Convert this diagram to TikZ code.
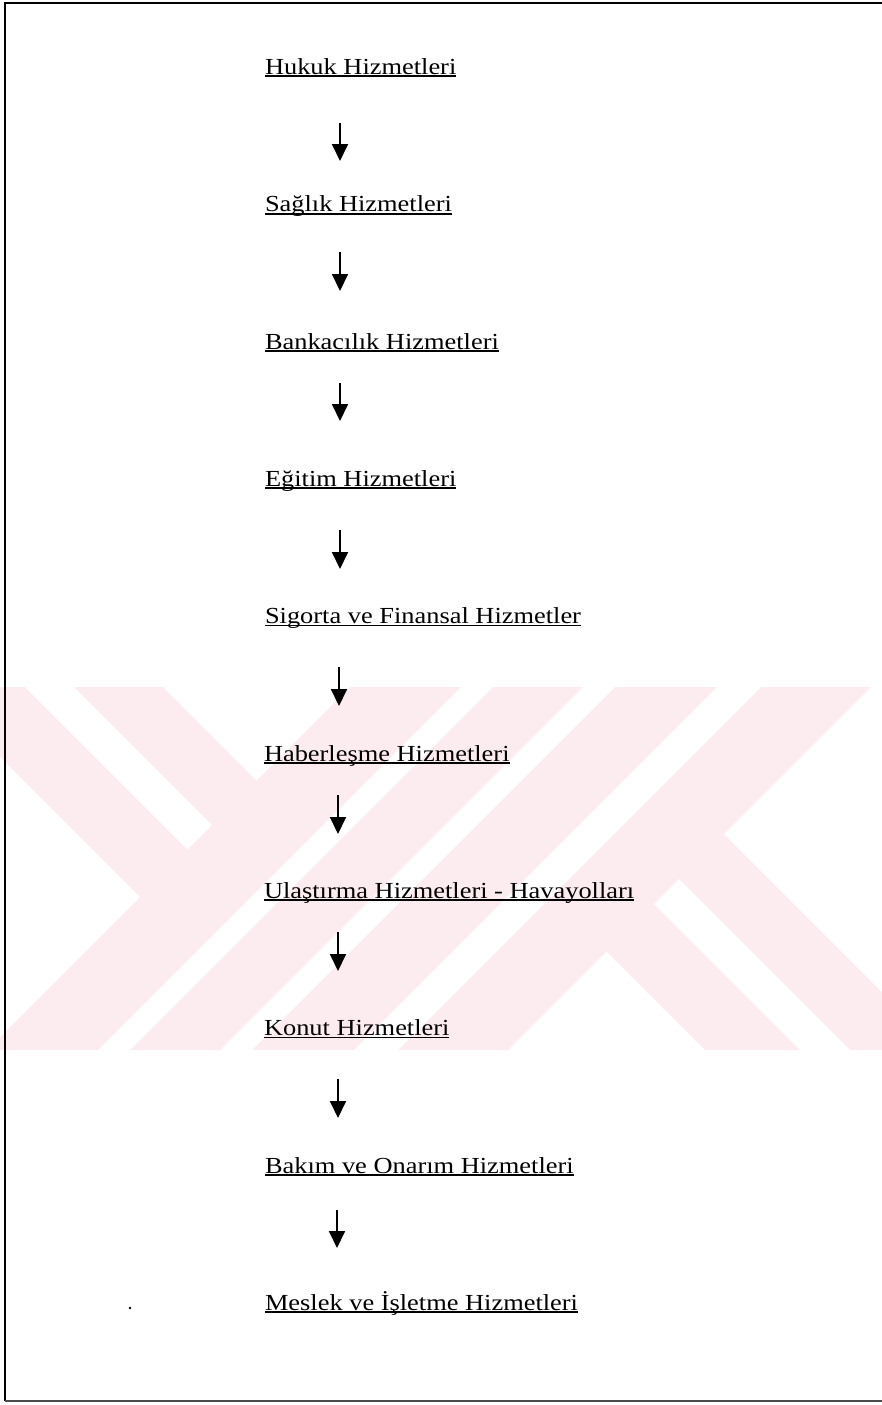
\documentclass[tikz,border=0pt]{standalone}
\usepackage{fontspec}
\setmainfont{Liberation Serif}
\usetikzlibrary{arrows.meta}
\definecolor{wmpink}{RGB}{253,236,239}
\begin{document}
\begin{tikzpicture}[x=0.5pt,y=-0.5pt,
  item/.style={anchor=base west, inner sep=0pt, outer sep=0pt, font=\fontsize{13.2}{16}\selectfont},
  uline/.style={line width=0.9pt},
  flow/.style={line width=0.9pt, -{Triangle[width=8pt,length=8.5pt]}},
  frame/.style={line width=1pt},
  wm/.style={fill=white, draw=none}]
\useasboundingbox (0,0) rectangle (882,1405);
\fill[white] (0,0) rectangle (882,1405);
% watermark
\begin{scope}
\clip (0,687) rectangle (882,1050);
\fill[wmpink] (0,687) rectangle (882,1050);
\fill[wm] (76,600) -- (256.5,780.5) -- (437,600) -- cycle;
\fill[wm] (212,825) -- (187.5,849.5) -- (-112.5,549.5) -- (-88,525) -- cycle;
\fill[wm] (140,897) -- (-200,557) -- (-200,1237) -- cycle;
\fill[wm] (548,600) -- (580,600) -- (80,1100) -- (48,1100) -- cycle;
\fill[wm] (670,600) -- (702,600) -- (202,1100) -- (170,1100) -- cycle;
\fill[wm] (804,600) -- (848,600) -- (348,1100) -- (304,1100) -- cycle;
\fill[wm] (724,834) -- (1024,534) -- (1024,1134) -- cycle;
\fill[wm] (679,879) -- (654,904) -- (1054,1304) -- (1079,1279) -- cycle;
\fill[wm] (606.5,951.5) -- (806.5,1151.5) -- (406.5,1151.5) -- cycle;
\end{scope}
% frame
\draw[frame] (4.5,1401) -- (4.5,3) -- (882,3);
\draw[line width=0.8pt, black!70] (4.5,1401) -- (882,1401);
% items
\node[item] (hukuk) at (265,74.5) {\scalebox{1}[0.87]{Hukuk Hizmetleri}};
\node[item] (saglik) at (265,211.8) {\scalebox{1}[0.87]{Sağlık Hizmetleri}};
\node[item] (banka) at (265,349.1) {\scalebox{1}[0.87]{Bankacılık Hizmetleri}};
\node[item] (egitim) at (265,486.4) {\scalebox{1}[0.87]{Eğitim Hizmetleri}};
\node[item] (sigorta) at (265,623.7) {\scalebox{1}[0.87]{Sigorta ve Finansal Hizmetler}};
\node[item] (haber) at (264,761) {\scalebox{1}[0.87]{Haberleşme Hizmetleri}};
\node[item] (ulas) at (264,898.3) {\scalebox{1}[0.87]{Ulaştırma Hizmetleri - Havayolları}};
\node[item] (konut) at (264,1035.6) {\scalebox{1}[0.87]{Konut Hizmetleri}};
\node[item] (bakim) at (265,1173.5) {\scalebox{1}[0.87]{Bakım ve Onarım Hizmetleri}};
\node[item] (meslek) at (265,1310.2) {\scalebox{1}[0.87]{Meslek ve İşletme Hizmetleri}};
\foreach \n in {hukuk,saglik,banka,egitim,sigorta,haber,ulas,konut,bakim,meslek}{
  \draw[uline] ([yshift=-0.9pt]\n.base west) -- ([yshift=-0.9pt]\n.base east);
}
% arrows
\coordinate (a1s) at (340,123);  \coordinate (a1e) at (340,161);
\coordinate (a2s) at (340,252);  \coordinate (a2e) at (340,291);
\coordinate (a3s) at (340,383);  \coordinate (a3e) at (340,421);
\coordinate (a4s) at (340,530);  \coordinate (a4e) at (340,569);
\coordinate (a5s) at (339,667);  \coordinate (a5e) at (339,706);
\coordinate (a6s) at (338,795);  \coordinate (a6e) at (338,834);
\coordinate (a7s) at (338,932);  \coordinate (a7e) at (338,971);
\coordinate (a8s) at (338,1079); \coordinate (a8e) at (338,1118);
\coordinate (a9s) at (337,1210); \coordinate (a9e) at (337,1248);
\foreach \i in {1,...,9}{ \draw[flow] (a\i s) -- (a\i e); }
% stray dot
\coordinate (dot) at (130,1308);
\fill (dot) circle (1.3);
\end{tikzpicture}
\end{document}
